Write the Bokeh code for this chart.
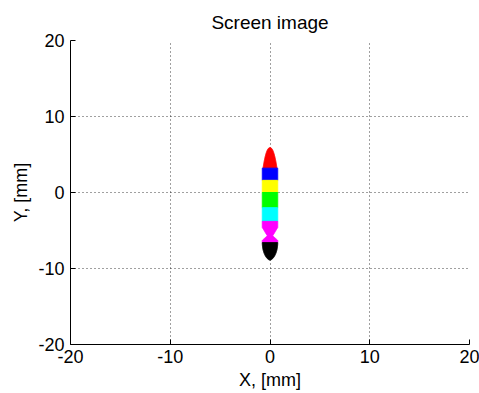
import numpy as np
from bokeh.plotting import figure
from bokeh.models import Range1d, FixedTicker, ColumnDataSource
from bokeh.embed import file_html
from bokeh.resources import INLINE

# Spot bands on the screen (mm)
band_colors = ["#ff0000", "#0000ff", "#ffff00", "#00ff00", "#00ffff", "#ff00ff", "#000000"]
band_top = [5.9, 3.2, 1.6, 0.0, -2.0, -3.8, -6.6]
band_bottom = [3.2, 1.6, 0.0, -2.0, -3.8, -6.6, -8.9]
band_width = [1.4, 1.55, 1.55, 1.55, 1.55, 1.55, 1.55]
band_shape = ["tip", "flat", "flat", "flat", "flat", "waist", "round"]
waist_y = -5.7
x_center = 0.0

ticks = [-20, -10, 0, 10, 20]
tick_labels = ["-20", "-10", "0", "10", "20"]


def profile(shape, top, bot, w, n=60):
    ys = np.linspace(top, bot, n)
    t = (top - ys) / (top - bot)  # 0 at top, 1 at bottom
    if shape == "tip":
        hw = w / 2 * np.power(np.clip(t, 0, 1), 0.45)
    elif shape == "round":
        hw = w / 2 * np.power(np.clip(1 - t ** 2, 0, 1), 0.6)
    elif shape == "waist":
        d = ys - waist_y
        scale = np.where(d > 0, 1.1, 0.6)
        hw = w / 2 * np.clip(0.35 + 0.65 * np.abs(d) / scale, 0, 1)
    else:
        hw = np.full_like(ys, w / 2)
    xs = np.concatenate([x_center - hw, (x_center + hw)[::-1]])
    yy = np.concatenate([ys, ys[::-1]])
    return list(xs), list(yy)


xs_list, ys_list = [], []
for s, tp, bt, w in zip(band_shape, band_top, band_bottom, band_width):
    px, py = profile(s, tp, bt, w)
    xs_list.append(px)
    ys_list.append(py)

src = ColumnDataSource(dict(xs=xs_list, ys=ys_list, color=band_colors))

p = figure(width=479, height=393, output_backend="svg", toolbar_location=None,
           x_range=Range1d(-20, 20), y_range=Range1d(-20, 20),
           title="Screen image",
           min_border_left=70, min_border_right=10, min_border_top=40, min_border_bottom=49)

p.patches("xs", "ys", source=src, fill_color="color", line_color="color", line_width=1)

font = "Liberation Sans"
p.title.align = "center"
p.title.text_font = font
p.title.text_font_size = "19px"
p.title.text_font_style = "normal"
p.title.text_color = "#000000"
p.title.standoff = 16

overrides = {t: l for t, l in zip(ticks, tick_labels)}
for ax in (p.xaxis[0], p.yaxis[0]):
    ax.ticker = FixedTicker(ticks=ticks)
    ax.major_label_overrides = overrides
    ax.major_label_text_font = font
    ax.major_label_text_font_size = "18px"
    ax.major_label_text_color = "#000000"
    ax.axis_label_text_font = font
    ax.axis_label_text_font_size = "18px"
    ax.axis_label_text_font_style = "normal"
    ax.axis_label_text_color = "#000000"
    ax.major_tick_in = 5
    ax.major_tick_out = 0
    ax.minor_tick_in = 0
    ax.minor_tick_out = 0
    ax.axis_line_color = "#000000"
    ax.major_tick_line_color = "#000000"

p.xaxis.axis_label = "X, [mm]"
p.yaxis.axis_label = "Y, [mm]"
p.xaxis.major_label_standoff = 5
p.yaxis.major_label_standoff = 6
p.xaxis.axis_label_standoff = 4
p.yaxis.axis_label_standoff = 4

for g in (p.xgrid[0], p.ygrid[0]):
    g.ticker = FixedTicker(ticks=ticks)
    g.grid_line_color = "#000000"
    g.grid_line_alpha = 0.75
    g.grid_line_dash = "1 3"
    g.grid_line_width = 1

p.outline_line_color = None
p.background_fill_color = "#ffffff"
p.border_fill_color = "#ffffff"

open("out.html", "w").write(file_html(p, INLINE))
